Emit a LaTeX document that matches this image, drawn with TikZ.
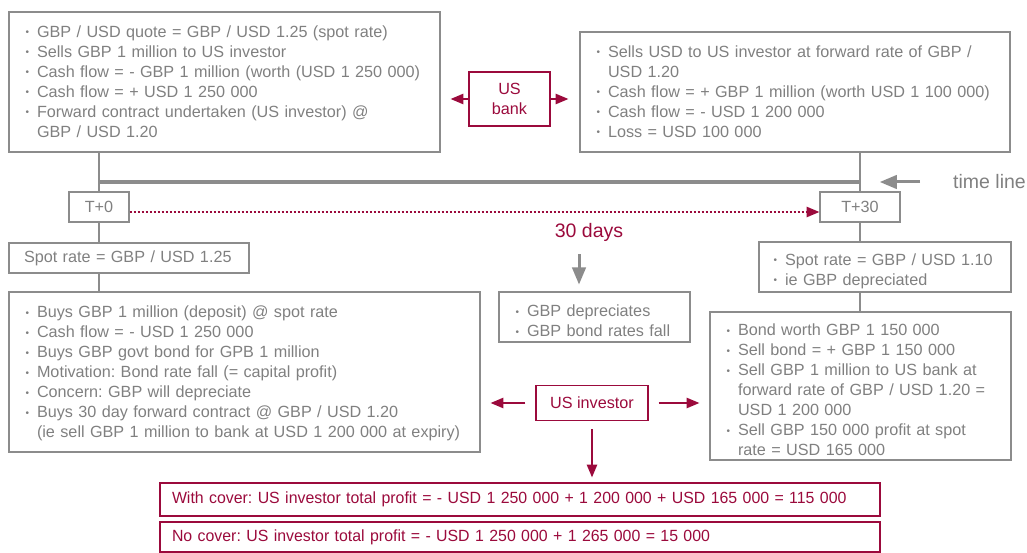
\documentclass[tikz,border=0pt]{standalone}
\usepackage{fontspec}
\setmainfont{Liberation Sans}
\newfontfamily\narrowfont[FakeStretch=0.98]{Liberation Sans}
\usepackage{tikz}
\usetikzlibrary{shapes.geometric, arrows}
\usetikzlibrary{positioning, calc}

\definecolor{boxgray}{RGB}{140,140,140}
\definecolor{txtgray}{RGB}{128,128,128}
\definecolor{bankred}{RGB}{155,10,60}

\frenchspacing
% bullet line with hanging indent
\newcommand{\bitem}{\par\hangindent=13pt\hangafter=1\noindent\makebox[13pt][l]{\hspace{1.5pt}\raisebox{1.5pt}{\fontsize{10}{10}\selectfont\textbullet}}}

\tikzset{
  gbox/.style={draw=boxgray, line width=1.4pt, text=txtgray, inner xsep=15pt, inner ysep=2pt,
    align=left, font=\fontsize{16.2}{20}\selectfont},
  rbox/.style={draw=bankred, line width=1.4pt, text=bankred, align=center,
    font=\fontsize{16.2}{20}\selectfont},
  link/.style={draw=boxgray, line width=1.4pt},
  rarr/.style={draw=bankred, line width=2pt, -triangle 45},
  garr/.style={draw=boxgray, line width=3pt, -triangle 45},
  dotline/.style={draw=bankred, line width=2pt, dash pattern=on 2pt off 2pt, -triangle 45},
}

\begin{document}
\begin{tikzpicture}[x=1pt, y=-1pt]
        \useasboundingbox (0,0) rectangle (1027,553);

        % Bank at T+0 and at T+30
        \node (b0) [gbox, text width=401pt, minimum height=140pt] at (224.5,82) {%
          \bitem GBP / USD quote = GBP / USD 1.25 (spot rate)
          \bitem Sells GBP 1 million to US investor
          \bitem Cash flow = - GBP 1 million (worth (USD 1 250 000)
          \bitem Cash flow = + USD 1 250 000
          \bitem Forward contract undertaken (US investor) @\newline GBP / USD 1.20\par\vspace{9pt}};
        \node (bank) [rbox, minimum width=81pt, minimum height=54pt] at (509.5,99) {US\\bank};
        \node (b30) [gbox, text width=400pt, minimum height=120pt] at (795,92) {%
          \bitem Sells USD to US investor at forward rate of GBP /\newline USD 1.20
          \bitem Cash flow = + GBP 1 million (worth USD 1 100 000)
          \bitem Cash flow = - USD 1 200 000
          \bitem Loss = USD 100 000\par\vspace{9pt}};

        % Time line
        \node (t0) [gbox, align=center, inner xsep=0pt, minimum width=60pt, minimum height=30pt] at (99,207) {T+0};
        \node (t30) [gbox, align=center, inner xsep=0pt, minimum width=80pt, minimum height=30pt] at (860,207) {T+30};
        \coordinate (tl0) at (99,182);
        \coordinate (tl30) at (860,182);
        \node (tlabel) [anchor=west, text=txtgray, font=\fontsize{19.5}{22}\selectfont, inner sep=0pt] at (953,182) {time line};
        \node (days) [text=bankred, font=\fontsize{19.5}{22}\selectfont, inner sep=0pt] at (589,232) {30 days};
        \coordinate (dtop) at (579,254);

        % US investor at T+0
        \node (spot0) [gbox, text width=210pt, minimum height=30pt] at (129,258) {Spot rate = GBP / USD 1.25};
        \node (inv0) [gbox, text width=441pt, minimum height=160pt] at (244.5,372) {%
          \bitem Buys GBP 1 million (deposit) @ spot rate
          \bitem Cash flow = - USD 1 250 000
          \bitem Buys GBP govt bond for GPB 1 million
          \bitem Motivation: Bond rate fall (= capital profit)
          \bitem Concern: GBP will depreciate
          \bitem Buys 30 day forward contract @ GBP / USD 1.20\newline
            (ie sell GBP 1 million to bank at USD 1 200 000 at expiry)\par\vspace{5pt}};

        % in between
        \node (dep) [gbox, text width=161pt, minimum height=50pt] at (594.5,317) {%
          \bitem GBP depreciates
          \bitem GBP bond rates fall\par};
        \node (usinv) [rbox, minimum width=112pt, minimum height=35pt] at (592,403) {US investor};

        % US investor at T+30
        \node (spot30) [gbox, inner xsep=13pt, text width=226pt, minimum height=50pt] at (885,267) {%
          \bitem Spot rate = GBP / USD 1.10
          \bitem ie GBP depreciated\par};
        \node (inv30) [gbox, text width=271pt, minimum height=148pt] at (860.5,386) {%
          \bitem Bond worth GBP 1 150 000
          \bitem Sell bond = + GBP 1 150 000
          \bitem Sell GBP 1 million to US bank at\newline forward rate of GBP / USD 1.20 =\newline USD 1 200 000
          \bitem Sell GBP 150 000 profit at spot\newline rate = USD 165 000\par};

        % Results
        \node (with) [rbox, align=left, inner xsep=12pt, text width=696pt, minimum height=33pt,
          font=\narrowfont\fontsize{16.2}{20}\selectfont] at (520,499.5)
          {With cover: US investor total profit = - USD 1 250 000 + 1 200 000 + USD 165 000 = 115 000};
        \node (nocov) [rbox, align=left, inner xsep=12pt, text width=696pt, minimum height=30pt,
          font=\narrowfont\fontsize{16.2}{20}\selectfont] at (520,537)
          {No cover: US investor total profit = - USD 1 250 000 + 1 265 000 = 15 000};

        % Gray links
        \draw[line width=3.5pt, boxgray] (tl0) -- (tl30);
        \draw[link] (t0.north |- b0.south) -- (t0.north);
        \draw[link] (t30.north |- b30.south) -- (t30.north);
        \draw[link] (t0.south) -- (t0.south |- spot0.north);
        \draw[link] (t0.south |- spot0.south) -- (t0.south |- inv0.north);
        \draw[link] (t30.south) -- (t30.south |- spot30.north);
        \draw[link] (t30.south |- spot30.south) -- (t30.south |- inv30.north);
        \draw[garr, shorten <=33pt, shorten >=20pt] (tlabel.west) -- (tl30);
        \draw[garr, shorten >=7pt] (dtop) -- (dtop |- dep.north);

        % Red arrows
        \draw[dotline] ([yshift=-5pt]t0.east) -- ([yshift=-5pt]t30.west);
        \draw[rarr, shorten >=10pt] (bank.west) -- (bank.west -| b0.east);
        \draw[rarr, shorten >=11pt] (bank.east) -- (bank.east -| b30.west);
        \draw[rarr, shorten <=10pt, shorten >=10pt] (usinv.west) -- (usinv.west -| inv0.east);
        \draw[rarr, shorten <=10pt, shorten >=10pt] (usinv.east) -- (usinv.east -| inv30.west);
        \draw[rarr, shorten <=8pt, shorten >=5pt] (usinv.south) -- (usinv.south |- with.north);
\end{tikzpicture}
\end{document}
